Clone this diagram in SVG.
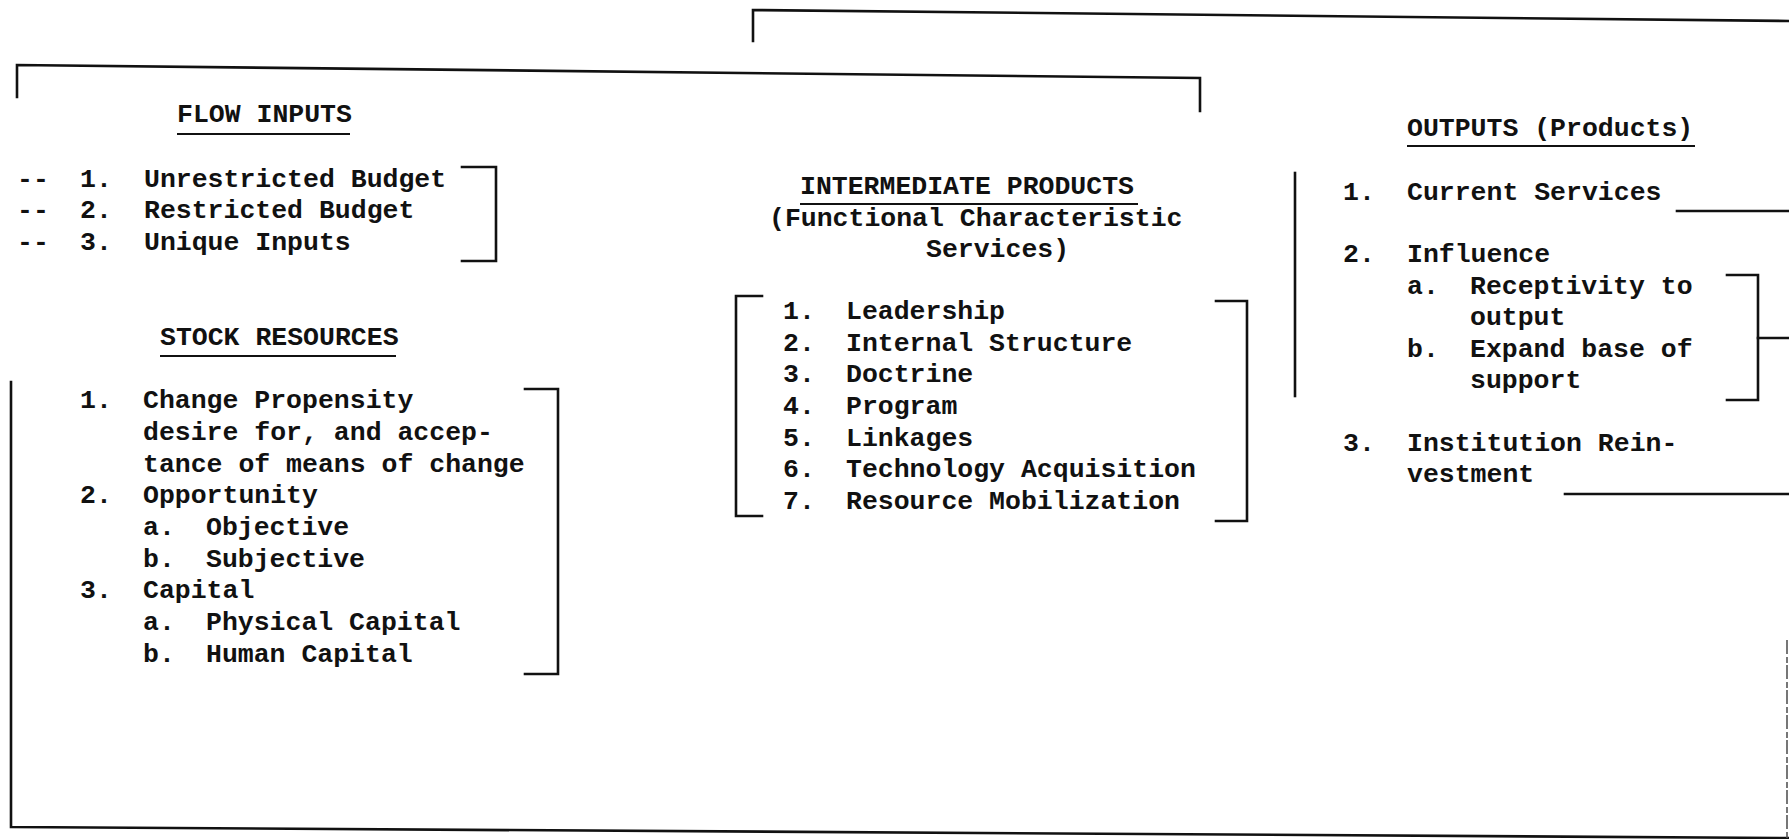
<svg xmlns="http://www.w3.org/2000/svg" width="1789" height="839" viewBox="0 0 1789 839">
  <style>
    .t { font-family: "Liberation Mono", "Courier New", monospace; font-weight: bold; font-size: 26.5px; fill: #111; }
    .ln { stroke: #111; stroke-width: 2.6; fill: none; stroke-linecap: square; }
    .ul { stroke: #111; stroke-width: 2.2; }
    .faint { stroke: #555; stroke-width: 1.6; fill: none; stroke-dasharray: 14 3 6 2; }
  </style>
  <rect width="1789" height="839" fill="#fff"/>

  <!-- frames, brackets and leader lines -->
  <g id="connectors">
    <path class="ln" d="M753,41 L753,10 L1789,21"/>
    <path class="ln" d="M17,97 L17,65 L1200,78 L1200,111"/>
    <path class="ln" d="M11,382 L11,827 L1789,838"/>
    <path class="faint" d="M1787,640 L1787,839"/>
    <path class="ln" d="M462,167 L496,167 L496,261 L462,261"/>
    <path class="ln" d="M525,389 L558,389 L558,674 L525,674"/>
    <path class="ln" d="M762,296 L736,296 L736,516 L762,516"/>
    <path class="ln" d="M1216,301 L1247,301 L1247,521 L1216,521"/>
    <path class="ln" d="M1295,173 L1295,396"/>
    <path class="ln" d="M1677,211 L1789,211"/>
    <path class="ln" d="M1727,275 L1758,275 L1758,400 L1727,400"/>
    <path class="ln" d="M1758,338 L1789,338"/>
    <path class="ln" d="M1565,494 L1789,494"/>
  </g>

  <g id="flow-inputs">
    <text class="t" x="177" y="122">FLOW INPUTS</text>
    <line class="ul" x1="177" y1="134" x2="350" y2="134"/>
    <text class="t" x="17" y="187">--</text>
    <text class="t" x="80" y="187">1.</text>
    <text class="t" x="144" y="187">Unrestricted Budget</text>
    <text class="t" x="17" y="218">--</text>
    <text class="t" x="80" y="218">2.</text>
    <text class="t" x="144" y="218">Restricted Budget</text>
    <text class="t" x="17" y="250">--</text>
    <text class="t" x="80" y="250">3.</text>
    <text class="t" x="144" y="250">Unique Inputs</text>
  </g>

  <g id="stock-resources">
    <text class="t" x="160" y="345">STOCK RESOURCES</text>
    <line class="ul" x1="160" y1="356" x2="396" y2="356"/>
    <text class="t" x="80" y="408">1.</text>
    <text class="t" x="143" y="408">Change Propensity</text>
    <text class="t" x="143" y="440">desire for, and accep-</text>
    <text class="t" x="143" y="472">tance of means of change</text>
    <text class="t" x="80" y="503">2.</text>
    <text class="t" x="143" y="503">Opportunity</text>
    <text class="t" x="143" y="535">a.</text>
    <text class="t" x="206" y="535">Objective</text>
    <text class="t" x="143" y="567">b.</text>
    <text class="t" x="206" y="567">Subjective</text>
    <text class="t" x="80" y="598">3.</text>
    <text class="t" x="143" y="598">Capital</text>
    <text class="t" x="143" y="630">a.</text>
    <text class="t" x="206" y="630">Physical Capital</text>
    <text class="t" x="143" y="662">b.</text>
    <text class="t" x="206" y="662">Human Capital</text>
  </g>

  <g id="intermediate-products">
    <text class="t" x="800" y="194">INTERMEDIATE PRODUCTS</text>
    <line class="ul" x1="800" y1="204" x2="1138" y2="204"/>
    <text class="t" x="769" y="226">(Functional Characteristic</text>
    <text class="t" x="926" y="257">Services)</text>
    <text class="t" x="783" y="319">1.</text>
    <text class="t" x="846" y="319">Leadership</text>
    <text class="t" x="783" y="351">2.</text>
    <text class="t" x="846" y="351">Internal Structure</text>
    <text class="t" x="783" y="382">3.</text>
    <text class="t" x="846" y="382">Doctrine</text>
    <text class="t" x="783" y="414">4.</text>
    <text class="t" x="846" y="414">Program</text>
    <text class="t" x="783" y="446">5.</text>
    <text class="t" x="846" y="446">Linkages</text>
    <text class="t" x="783" y="477">6.</text>
    <text class="t" x="846" y="477">Technology Acquisition</text>
    <text class="t" x="783" y="509">7.</text>
    <text class="t" x="846" y="509">Resource Mobilization</text>
  </g>

  <g id="outputs">
    <text class="t" x="1407" y="136">OUTPUTS (Products)</text>
    <line class="ul" x1="1407" y1="146" x2="1695" y2="146"/>
    <text class="t" x="1343" y="200">1.</text>
    <text class="t" x="1407" y="200">Current Services</text>
    <text class="t" x="1343" y="262">2.</text>
    <text class="t" x="1407" y="262">Influence</text>
    <text class="t" x="1407" y="294">a.</text>
    <text class="t" x="1470" y="294">Receptivity to</text>
    <text class="t" x="1470" y="325">output</text>
    <text class="t" x="1407" y="357">b.</text>
    <text class="t" x="1470" y="357">Expand base of</text>
    <text class="t" x="1470" y="388">support</text>
    <text class="t" x="1343" y="451">3.</text>
    <text class="t" x="1407" y="451">Institution Rein-</text>
    <text class="t" x="1407" y="482">vestment</text>
  </g>
</svg>
